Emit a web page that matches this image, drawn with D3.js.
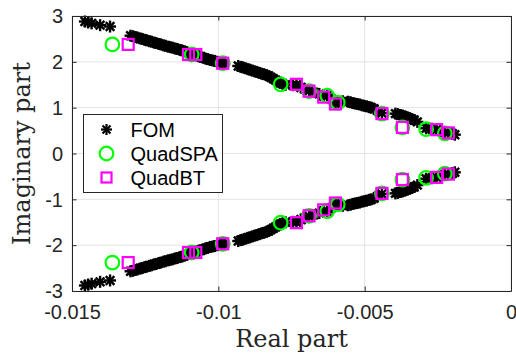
<!DOCTYPE html>
<html>
<head>
<meta charset="utf-8">
<script src="https://cdn.jsdelivr.net/npm/d3@7"></script>
<style>
  body { margin: 0; background: #fff; }
  svg { display: block; }
</style>
</head>
<body>
<svg id="vis" width="516" height="358"></svg>
<script>
'use strict';

// upper half of each spectrum (conjugates are drawn by mirroring)
var fomRe = [-0.01456, -0.01445, -0.01433, -0.01404, -0.01370,
    -0.01300, -0.01292, -0.01284, -0.01276, -0.01268, -0.01260, -0.01252, -0.01244, -0.01236,
    -0.01228, -0.01220, -0.01212, -0.01204, -0.01196, -0.01188, -0.01180, -0.01172, -0.01164,
    -0.01156, -0.01148, -0.01140, -0.01132, -0.01124, -0.01116, -0.01108, -0.01100, -0.01092,
    -0.01084, -0.01076, -0.01068, -0.01060, -0.01052, -0.01044, -0.01036, -0.01028, -0.01020,
    -0.01012, -0.01004, -0.00996, -0.00988, -0.00980,
    -0.00932, -0.00924, -0.00916, -0.00908, -0.00900, -0.00892, -0.00884, -0.00876, -0.00868,
    -0.00860, -0.00852, -0.00844, -0.00836, -0.00828, -0.00820, -0.00812, -0.00804, -0.00796,
    -0.00788, -0.00780, -0.00770,
    -0.00745, -0.00733, -0.00718, -0.00705, -0.00690, -0.00675, -0.00655, -0.00640, -0.00628,
    -0.00612, -0.00600, -0.00593, -0.00575,
    -0.00557, -0.00549, -0.00541, -0.00533, -0.00525, -0.00517, -0.00509, -0.00501, -0.00493,
    -0.00485, -0.00477, -0.00469, -0.00455, -0.00441,
    -0.00395, -0.00387, -0.00379, -0.00371, -0.00363, -0.00355, -0.00347, -0.00339, -0.00331,
    -0.00320, -0.00290, -0.00280, -0.00270, -0.00254, -0.00240, -0.00226, -0.00214, -0.00200,
    -0.00192];
var fomIm = [2.88, 2.86, 2.84, 2.80, 2.77,
    2.57, 2.56, 2.54, 2.53, 2.51, 2.50, 2.48, 2.47, 2.45,
    2.44, 2.42, 2.41, 2.39, 2.38, 2.36, 2.35, 2.33, 2.32,
    2.31, 2.29, 2.28, 2.26, 2.25, 2.23, 2.21, 2.19, 2.17,
    2.15, 2.14, 2.12, 2.11, 2.09, 2.07, 2.06, 2.04, 2.03,
    2.02, 2.00, 1.99, 1.97, 1.96,
    1.91, 1.89, 1.88, 1.86, 1.84, 1.83, 1.81, 1.79, 1.78,
    1.76, 1.74, 1.73, 1.71, 1.69, 1.66, 1.63, 1.60, 1.57,
    1.54, 1.52, 1.50,
    1.49, 1.50, 1.44, 1.41, 1.37, 1.34, 1.30, 1.25, 1.27,
    1.18, 1.10, 1.13, 1.14,
    1.13, 1.12, 1.10, 1.09, 1.08, 1.07, 1.05, 1.04, 1.03,
    1.01, 1.00, 0.98, 0.93, 0.88,
    0.87, 0.86, 0.84, 0.83, 0.81, 0.79, 0.77, 0.75, 0.73,
    0.69, 0.55, 0.55, 0.54, 0.52, 0.49, 0.46, 0.45, 0.43,
    0.41];

var spaRe = [-0.01362, -0.01091, -0.00985, -0.00787, -0.00690, -0.00628, -0.00592, -0.00441, -0.00371, -0.00290, -0.00226];
var spaIm = [2.38, 2.16, 1.97, 1.51, 1.36, 1.26, 1.11, 0.87, 0.57, 0.53, 0.44];

var btRe = [-0.01308, -0.01102, -0.01077, -0.00985, -0.00733, -0.00690, -0.00640, -0.00600, -0.00441, -0.00371, -0.00254, -0.00214];
var btIm = [2.38, 2.16, 2.16, 1.97, 1.51, 1.36, 1.23, 1.08, 0.87, 0.57, 0.52, 0.45];

var xTicks = [-0.015, -0.01, -0.005, 0];
var xTickLabels = ['-0.015', '-0.01', '-0.005', '0'];
var yTicks = [-3, -2, -1, 0, 1, 2, 3];

var legendNames = ['FOM', 'QuadSPA', 'QuadBT'];

var margin = {top: 16, right: 5, bottom: 67, left: 72};
var width = 516 - margin.left - margin.right,
    height = 358 - margin.top - margin.bottom;

var axisColor = '#262626';
var green = '#00ff00', magenta = '#ff00ff';

function withConj(re, im) {
    var pts = [];
    re.forEach(function (r, i) {
        pts.push([r, im[i]]);
        pts.push([r, -im[i]]);
    });
    return pts;
}

var svg = d3.select('#vis');
var g = svg.append('g').attr('transform', 'translate(' + margin.left + ',' + margin.top + ')');

var x = d3.scaleLinear().domain([-0.015, 0]).range([0, width]);
var y = d3.scaleLinear().domain([-3, 3]).range([height, 0]);

// grid
g.append('g').selectAll('line').data(xTicks).enter().append('line')
    .attr('x1', function (d) { return x(d); }).attr('x2', function (d) { return x(d); })
    .attr('y1', 0).attr('y2', height)
    .attr('stroke', '#e3e3e3').attr('stroke-width', 1);
g.append('g').selectAll('line').data(yTicks).enter().append('line')
    .attr('y1', function (d) { return y(d); }).attr('y2', function (d) { return y(d); })
    .attr('x1', 0).attr('x2', width)
    .attr('stroke', '#e3e3e3').attr('stroke-width', 1);

// asterisk marker, like matlab '*'
function star(sel, r) {
    var k = r * 0.72;
    sel.append('line').attr('x1', -r).attr('x2', r).attr('y1', 0).attr('y2', 0);
    sel.append('line').attr('x1', 0).attr('x2', 0).attr('y1', -r).attr('y2', r);
    sel.append('line').attr('x1', -k).attr('x2', k).attr('y1', -k).attr('y2', k);
    sel.append('line').attr('x1', -k).attr('x2', k).attr('y1', k).attr('y2', -k);
}

var plotArea = g.append('g');

plotArea.selectAll('.fom').data(withConj(fomRe, fomIm)).enter().append('g')
    .attr('class', 'fom')
    .attr('transform', function (d) { return 'translate(' + x(d[0]) + ',' + y(d[1]) + ')'; })
    .attr('stroke', '#000').attr('stroke-width', 2.4)
    .each(function () { star(d3.select(this), 6); });

plotArea.selectAll('.spa').data(withConj(spaRe, spaIm)).enter().append('circle')
    .attr('class', 'spa')
    .attr('cx', function (d) { return x(d[0]); })
    .attr('cy', function (d) { return y(d[1]); })
    .attr('r', 6.8)
    .attr('fill', 'none').attr('stroke', green).attr('stroke-width', 2.2);

plotArea.selectAll('.bt').data(withConj(btRe, btIm)).enter().append('rect')
    .attr('class', 'bt')
    .attr('x', function (d) { return x(d[0]) - 5.5; })
    .attr('y', function (d) { return y(d[1]) - 5.5; })
    .attr('width', 11).attr('height', 11)
    .attr('fill', 'none').attr('stroke', magenta).attr('stroke-width', 2.2);

// axes box and ticks
var tickFont = '"Liberation Sans", Arial, Helvetica, sans-serif';

g.append('g')
    .attr('transform', 'translate(0,' + height + ')')
    .call(d3.axisBottom(x).tickValues(xTicks).tickSizeInner(-4.5).tickSizeOuter(0)
        .tickFormat(function (d, i) { return xTickLabels[i]; }))
    .call(function (a) {
        a.select('.domain').attr('stroke', axisColor);
        a.selectAll('.tick line').attr('stroke', axisColor);
        a.selectAll('.tick text').attr('fill', axisColor).attr('font-family', tickFont)
            .attr('font-size', 20).attr('dy', '0').attr('y', 28);
    });

g.append('g')
    .call(d3.axisTop(x).tickValues(xTicks).tickSizeInner(-4.5).tickSizeOuter(0).tickFormat(''))
    .call(function (a) {
        a.select('.domain').attr('stroke', axisColor);
        a.selectAll('.tick line').attr('stroke', axisColor);
    });

g.append('g')
    .call(d3.axisLeft(y).tickValues(yTicks).tickSizeInner(-4.5).tickSizeOuter(0))
    .call(function (a) {
        a.select('.domain').attr('stroke', axisColor);
        a.selectAll('.tick line').attr('stroke', axisColor);
        a.selectAll('.tick text').attr('fill', axisColor).attr('font-family', tickFont)
            .attr('font-size', 20).attr('x', -9).attr('dy', '0.34em')
            .text(function (d) { return d < 0 ? '-' + Math.abs(d) : d; });
    });

g.append('g')
    .attr('transform', 'translate(' + width + ',0)')
    .call(d3.axisRight(y).tickValues(yTicks).tickSizeInner(-4.5).tickSizeOuter(0).tickFormat(''))
    .call(function (a) {
        a.select('.domain').attr('stroke', axisColor);
        a.selectAll('.tick line').attr('stroke', axisColor);
    });

// axis labels
var labelFont = '"DejaVu Serif", "Liberation Serif", serif';
svg.append('text')
    .attr('x', margin.left + width / 2).attr('y', 347)
    .attr('text-anchor', 'middle')
    .attr('font-family', labelFont).attr('font-size', 24)
    .attr('fill', axisColor)
    .text('Real part');

svg.append('text')
    .attr('transform', 'translate(30,' + (margin.top + height / 2) + ') rotate(-90)')
    .attr('text-anchor', 'middle')
    .attr('font-family', labelFont).attr('font-size', 24)
    .attr('fill', axisColor)
    .text('Imaginary part');

// legend
var legend = svg.append('g').attr('transform', 'translate(83.5,114.5)');
legend.append('rect')
    .attr('width', 139).attr('height', 78)
    .attr('fill', '#fff').attr('stroke', axisColor).attr('stroke-width', 1);

var rows = legend.selectAll('.row').data(legendNames).enter().append('g')
    .attr('class', 'row')
    .attr('transform', function (d, i) { return 'translate(0,' + (15 + i * 24) + ')'; });

rows.append('text')
    .attr('x', 47).attr('dy', '0.36em')
    .attr('font-family', tickFont).attr('font-size', 20)
    .attr('fill', '#000')
    .text(function (d) { return d; });

rows.each(function (d, i) {
    var r = d3.select(this).append('g').attr('transform', 'translate(23,0)');
    if (i === 0) {
        r.attr('stroke', '#000').attr('stroke-width', 2.2);
        star(r, 5.5);
    } else if (i === 1) {
        r.append('circle').attr('r', 6.8).attr('fill', 'none').attr('stroke', green).attr('stroke-width', 2.2);
    } else {
        r.append('rect').attr('x', -5).attr('y', -5).attr('width', 10).attr('height', 10)
            .attr('fill', 'none').attr('stroke', magenta).attr('stroke-width', 2.2);
    }
});
</script>
</body>
</html>
